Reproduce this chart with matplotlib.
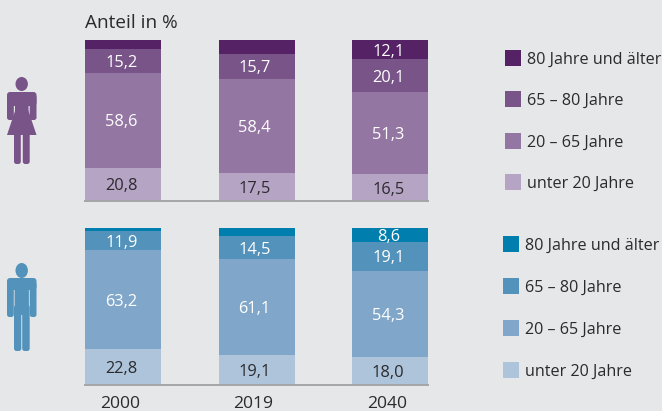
import matplotlib
matplotlib.use("Agg")
import matplotlib.pyplot as plt
from matplotlib.patches import Rectangle, Ellipse, Polygon, FancyBboxPatch

years = ["2000", "2019", "2040"]
age_groups = ["unter 20 Jahre", "20 – 65 Jahre", "65 – 80 Jahre", "80 Jahre und älter"]
women_u20 = [20.8, 17.5, 16.5]
women_20_65 = [58.6, 58.4, 51.3]
women_65_80 = [15.2, 15.7, 20.1]
women_80 = [5.4, 8.4, 12.1]
men_u20 = [22.8, 19.1, 18.0]
men_20_65 = [63.2, 61.1, 54.3]
men_65_80 = [11.9, 14.5, 19.1]
men_80 = [2.1, 5.3, 8.6]
women_labels = [["20,8", "17,5", "16,5"], ["58,6", "58,4", "51,3"], ["15,2", "15,7", "20,1"], ["", "", "12,1"]]
men_labels = [["22,8", "19,1", "18,0"], ["63,2", "61,1", "54,3"], ["11,9", "14,5", "19,1"], ["", "", "8,6"]]
women_colors = ["#b6a4c4", "#9476a3", "#785488", "#552266"]
men_colors = ["#adc4da", "#80a7c9", "#5393bb", "#007ead"]
text_colors = ["#2b2a2e", "white", "white", "white"]

W, H = 662, 411
BG = "#e6e7e9"
plt.rcParams["font.family"] = ["Open Sans", "DejaVu Sans"]
fig = plt.figure(figsize=(W / 100, H / 100), dpi=100, facecolor=BG)


def px_axes(x0, y0, x1, y1):
    a = fig.add_axes([x0 / W, 1 - y1 / H, (x1 - x0) / W, (y1 - y0) / H])
    a.patch.set_alpha(0)
    return a


def stacked(box, series, labels, colors):
    ax = px_axes(*box)
    bar_w = 76 / 133.5
    ax.set_xlim(-bar_w / 2, 2 + bar_w / 2)
    ax.set_ylim(0, 100)
    bottom = [0, 0, 0]
    for vals, labs, col, tc in zip(series, labels, colors, text_colors):
        ax.bar(range(3), vals, bar_w, bottom=bottom, color=col, linewidth=0)
        for i, (v, lab) in enumerate(zip(vals, labs)):
            if lab:
                ax.annotate(lab, (i, bottom[i] + v / 2), xytext=(-1.3, 0), textcoords="offset points",
                            ha="center", va="center_baseline", color=tc, fontsize=11.8)
        bottom = [b + v for b, v in zip(bottom, vals)]
    for s in ("top", "left", "right"):
        ax.spines[s].set_visible(False)
    ax.spines["bottom"].set_color("#a5a6a8")
    ax.spines["bottom"].set_linewidth(1.4)
    ax.set_yticks([])
    ax.set_xticks([])
    return ax


stacked((85, 40, 428, 201), [women_u20, women_20_65, women_65_80, women_80], women_labels, women_colors)
ax2 = stacked((85, 228, 428, 385), [men_u20, men_20_65, men_65_80, men_80], men_labels, men_colors)
ax2.set_xticks(range(3), ["" for _ in years])
ax2.tick_params(length=0)
for i, year in enumerate(years):
    ax2.annotate(year, (i, 0), xytext=(-2.4, -12.4), textcoords="offset points", ha="center",
                 va="center_baseline", fontsize=12.6, color="#2b2a2e", annotation_clip=False)

fig.text(85 / W, 1 - 21 / H, "Anteil in %", fontsize=13.7, color="#2b2a2e", ha="left", va="center_baseline")

# overlay in pixel coordinates for legends and pictograms
ov = fig.add_axes([0, 0, 1, 1])
ov.set_xlim(0, W)
ov.set_ylim(H, 0)
ov.axis("off")
ov.patch.set_alpha(0)


def legend(x, ys, tx, colors):
    for y, label, col in zip(ys, age_groups, colors):
        ov.add_patch(Rectangle((x, y), 16, 16, facecolor=col, edgecolor="none"))
        ov.text(tx, y + 8, label, fontsize=11.6, color="#2b2a2e", ha="left", va="center_baseline")


legend(505, [174, 133, 91, 50], 527, women_colors)
legend(503, [362, 320, 278, 236], 525, men_colors)


def rbox(x0, y0, x1, y1, col, r=2):
    ov.add_patch(FancyBboxPatch((x0 + r, y0 + r), x1 - x0 - 2 * r, y1 - y0 - 2 * r,
                                boxstyle=f"round,pad={r},rounding_size={r}", facecolor=col, edgecolor="none"))


def woman(col):
    ov.add_patch(Ellipse((21.7, 84), 12.4, 14, facecolor=col, edgecolor="none"))
    rbox(7, 92, 36.5, 106, col, 3)
    rbox(7, 95, 13.8, 120, col, 2.5)
    rbox(29.7, 95, 36.5, 120, col, 2.5)
    rbox(15, 95, 28.5, 112, col, 0.5)
    ov.add_patch(Polygon([(16, 108), (27.5, 108), (36.5, 135), (7, 135)], facecolor=col, edgecolor="none"))
    rbox(14, 130, 20.8, 164, col, 2.5)
    rbox(22.8, 130, 29.7, 164, col, 2.5)


def man(col):
    ov.add_patch(Ellipse((21.7, 270.5), 12.4, 15, facecolor=col, edgecolor="none"))
    rbox(7, 278, 36.5, 290, col, 3)
    rbox(7, 282, 13.8, 317, col, 2.5)
    rbox(29.7, 282, 36.5, 317, col, 2.5)
    rbox(14.6, 284, 28.9, 315, col, 0.3)
    rbox(14, 305, 21.3, 351, col, 2.5)
    rbox(22.2, 305, 29.7, 351, col, 2.5)


woman(women_colors[2])
man(men_colors[2])

fig.savefig("out.png", dpi=100, facecolor=BG)
